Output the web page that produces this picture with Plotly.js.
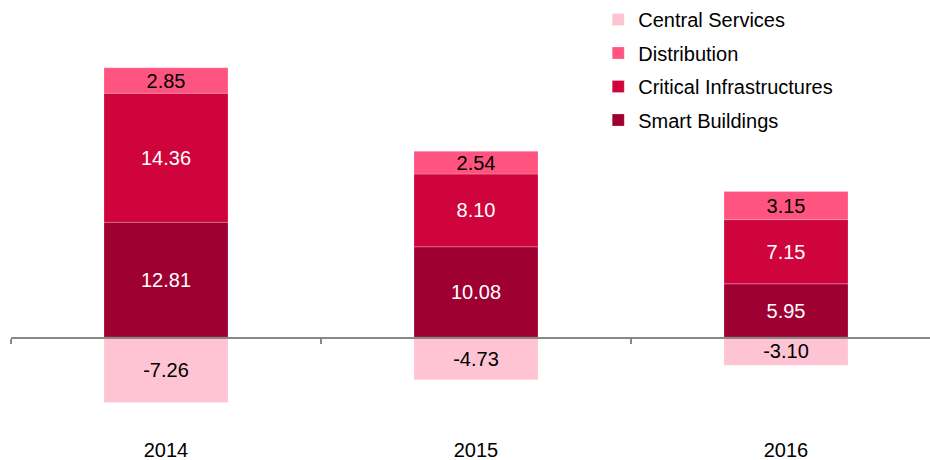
<!DOCTYPE html>
<html>
<head>
<meta charset="utf-8">
<script src="https://cdn.plot.ly/plotly-3.0.1.min.js"></script>
<style>html,body{margin:0;padding:0;background:#fff;}#chart{width:930px;height:460px;}</style>
</head>
<body>
<div id="chart"></div>
<script>
const years = ['2014', '2015', '2016'];
const smartBuildings = [12.81, 10.08, 5.95];
const criticalInfrastructures = [14.36, 8.10, 7.15];
const distribution = [2.85, 2.54, 3.15];
const centralServices = [-7.26, -4.73, -3.10];

const seriesNames = ['Smart Buildings', 'Critical Infrastructures', 'Distribution', 'Central Services'];
const seriesValues = [smartBuildings, criticalInfrastructures, distribution, centralServices];
const seriesColors = ['#9E0031', '#D0043C', '#FF5480', '#FFC4D3'];
const textColors = ['#ffffff', '#ffffff', '#000000', '#000000'];
const legendRanks = [4, 3, 2, 1];

const FONT = 'Liberation Sans, Arial, Helvetica, sans-serif';

const traces = seriesNames.map((name, i) => ({
  type: 'bar',
  name: name,
  x: years,
  y: seriesValues[i],
  text: seriesValues[i].map(v => v.toFixed(2)),
  texttemplate: '%{text}',
  textposition: 'inside',
  insidetextanchor: 'middle',
  textangle: 0,
  constraintext: 'none',
  textfont: {family: FONT, size: 20, color: textColors[i]},
  marker: {color: seriesColors[i], line: {color: 'rgba(255,255,255,0.35)', width: 0.6}},
  width: 0.4,
  legendgroup: 'g' + i,
  legendrank: legendRanks[i],
  hoverinfo: 'x+y+name'
}));

const pxPerUnit = 8.98;
const zeroPx = 337.3;
const H = 460;
const yMax = zeroPx / pxPerUnit;
const yMin = -(H - zeroPx) / pxPerUnit;
const zeroFrac = (0 - yMin) / (yMax - yMin);

const layout = {
  width: 930,
  height: 460,
  margin: {l: 11, r: 0, t: 0, b: 0, pad: 0},
  paper_bgcolor: '#ffffff',
  plot_bgcolor: '#ffffff',
  barmode: 'relative',
  font: {family: FONT, size: 20, color: '#000000'},
  showlegend: true,
  legend: {
    x: 0.639, y: 1, xanchor: 'left', yanchor: 'top',
    traceorder: 'grouped',
    tracegroupgap: 4.5,
    font: {family: FONT, size: 20, color: '#000000'},
    bgcolor: 'rgba(0,0,0,0)'
  },
  xaxis: {
    type: 'category',
    range: [-0.5, -0.5 + 919 / 310],
    anchor: 'free',
    position: zeroFrac,
    showline: true,
    linecolor: '#888888',
    linewidth: 1.5,
    ticks: 'outside',
    tickson: 'boundaries',
    ticklen: 5,
    tickcolor: '#888888',
    tickwidth: 1.5,
    showgrid: false,
    zeroline: false,
    ticklabelstandoff: 94,
    tickfont: {family: FONT, size: 20, color: '#000000'},
    automargin: false,
    fixedrange: true
  },
  yaxis: {
    range: [yMin, yMax],
    visible: false,
    showgrid: false,
    zeroline: false,
    fixedrange: true
  }
};

Plotly.newPlot('chart', traces, layout, {displayModeBar: false, staticPlot: true});
</script>
</body>
</html>
